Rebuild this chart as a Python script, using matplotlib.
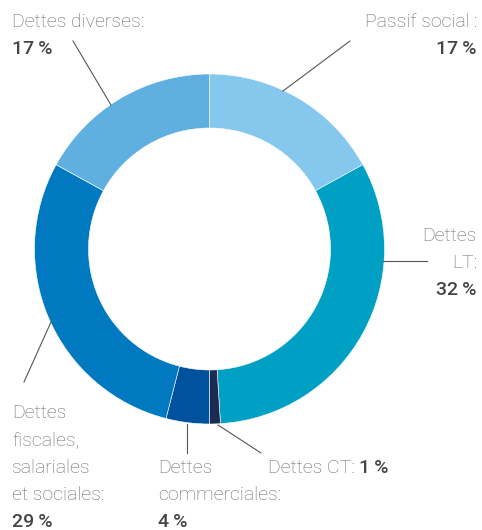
import matplotlib
matplotlib.use('Agg')
import matplotlib.pyplot as plt

# data of the chart
labels = ['Passif social', 'Dettes LT', 'Dettes CT', 'Dettes commerciales',
          'Dettes fiscales, salariales et sociales', 'Dettes diverses']
percents = [17, 32, 1, 4, 29, 17]
colors = ['#86c7ee', '#00a0c4', '#1c2b50', '#00519e', '#0079c1', '#5fb0e1']

W, H = 482, 530
label_color = '#686868'
value_color = '#454545'
line_color = '#555555'
font = ['Roboto', 'DejaVu Sans']
fsize = 14


# convert pixel y (from top) to data y
def py(y):
    return H - y


# write a light label line
def light(ax, x, y, s, ha='left'):
    return ax.text(x, py(y), s, fontsize=fsize, color=label_color, family=font,
                   fontweight='light', ha=ha, va='center')


# write a bold value line
def bold(ax, x, y, s, ha='left'):
    return ax.text(x, py(y), s, fontsize=fsize, color=value_color, family=font,
                   fontweight='medium', ha=ha, va='center')


fig = plt.figure(figsize=(W / 100, H / 100), dpi=100)
ax = fig.add_axes([0, 0, 1, 1])

# donut
ax.pie(percents, colors=colors, startangle=90, counterclock=False,
       center=(209.5, py(249)), radius=175, frame=True,
       wedgeprops=dict(width=54, edgecolor='white', linewidth=0.4))
ax.set_xlim(0, W)
ax.set_ylim(0, H)
ax.set_aspect('equal')
ax.axis('off')

# leader lines
leaders = [((283, 91), (350, 41)),
           ((111, 105), (73, 41)),
           ((383, 261), (427, 261)),
           ((218, 425), (261, 453)),
           ((187, 424), (187, 453)),
           ((51, 322), (24, 382))]
for (x0, y0), (x1, y1) in leaders:
    ax.plot([x0, x1], [py(y0), py(y1)], color=line_color, lw=0.8)

# labels
light(ax, 12, 22, 'Dettes diverses:')
bold(ax, 12, 49, '{0}\u2009%'.format(percents[5]))

light(ax, 477, 22, 'Passif social\u2009:', ha='right')
bold(ax, 477, 49, '{0}\u2009%'.format(percents[0]), ha='right')

light(ax, 477, 236, 'Dettes', ha='right')
light(ax, 477, 263, 'LT:', ha='right')
bold(ax, 477, 290, '{0}\u2009%'.format(percents[1]), ha='right')

# 'Dettes CT:' and its value on one line
ct = light(ax, 268, 468, 'Dettes CT:')
fig.canvas.draw()
bb = ct.get_window_extent()
bold(ax, bb.x1 + 4, 468, '{0}\u2009%'.format(percents[2]))

light(ax, 158, 468, 'Dettes')
light(ax, 158, 495, 'commerciales:')
bold(ax, 158, 522, '{0}\u2009%'.format(percents[3]))

light(ax, 12, 413, 'Dettes')
light(ax, 12, 440, 'fiscales,')
light(ax, 12, 468, 'salariales')
light(ax, 12, 495, 'et sociales:')
bold(ax, 12, 522, '{0}\u2009%'.format(percents[4]))

plt.savefig('out.png', dpi=100)
plt.close()
